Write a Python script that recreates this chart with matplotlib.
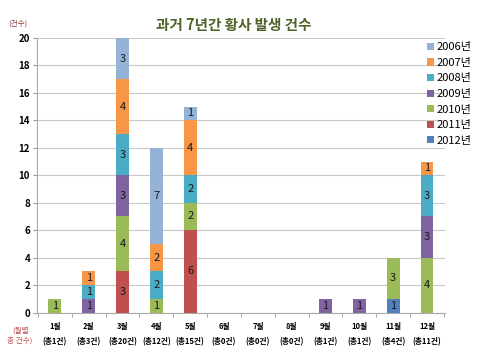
import matplotlib
matplotlib.use("Agg")
import matplotlib.pyplot as plt
import numpy as np

plt.rcParams['font.family'] = ['Noto Sans CJK KR', 'DejaVu Sans']

months = ["1월", "2월", "3월", "4월", "5월", "6월", "7월", "8월", "9월", "10월", "11월", "12월"]
totals_lbl = ["(총1건)", "(총3건)", "(총20건)", "(총12건)", "(총15건)", "(총0건)",
              "(총0건)", "(총0건)", "(총1건)", "(총1건)", "(총4건)", "(총11건)"]
# stacking order bottom -> top
years = ["2012년", "2011년", "2010년", "2009년", "2008년", "2007년", "2006년"]
y2012 = [0, 0, 0, 0, 0, 0, 0, 0, 0, 0, 1, 0]
y2011 = [0, 0, 3, 0, 6, 0, 0, 0, 0, 0, 0, 0]
y2010 = [1, 0, 4, 1, 2, 0, 0, 0, 0, 0, 3, 4]
y2009 = [0, 1, 3, 0, 0, 0, 0, 0, 1, 1, 0, 3]
y2008 = [0, 1, 3, 2, 2, 0, 0, 0, 0, 0, 0, 3]
y2007 = [0, 1, 4, 2, 4, 0, 0, 0, 0, 0, 0, 1]
y2006 = [0, 0, 3, 7, 1, 0, 0, 0, 0, 0, 0, 0]
series = [y2012, y2011, y2010, y2009, y2008, y2007, y2006]
colors = ["#4F81BD", "#C0504D", "#9BBB59", "#8064A2", "#4BACC6", "#F79646", "#95B3D7"]

fig = plt.figure(figsize=(4.8, 3.61), dpi=100)
ax = fig.add_axes([0.077, 0.134, 0.85, 0.761])

x = np.arange(len(months))
bottom = np.zeros(len(months))
handles = {}
for name, vals, c in zip(years, series, colors):
    vals = np.array(vals, dtype=float)
    bars = ax.bar(x, vals, width=0.38, bottom=bottom, color=c, edgecolor='none', zorder=3)
    handles[name] = bars
    for xi, v, b in zip(x, vals, bottom):
        if v > 0:
            ax.text(xi, b + v / 2, f"{int(v)}", ha='center', va='center', fontsize=8,
                    color='#1a1a1a', zorder=4)
    bottom += vals

ax.set_xlim(-0.53, 11.53)
ax.set_ylim(0, 20)
ax.set_yticks(range(0, 21, 2))
ax.set_yticklabels([str(v) for v in range(0, 21, 2)], fontsize=7, fontweight='bold')
ax.yaxis.grid(True, color='#c8c8c8', linewidth=0.8, zorder=0)
ax.set_axisbelow(True)
ax.set_xticks(x)
ax.set_xticklabels([f"{m}\n{t}" for m, t in zip(months, totals_lbl)], fontsize=5.5,
                   fontweight='bold', linespacing=1.9)
ax.tick_params(axis='x', length=0, pad=7)
ax.tick_params(axis='y', length=3, color='#999999', pad=2)
ax.set_xticks(np.arange(-0.5, 12, 1), minor=True)
ax.tick_params(axis='x', which='minor', length=3, color='#999999')
for s in ['top', 'right']:
    ax.spines[s].set_visible(False)
ax.spines['left'].set_color('#aaaaaa')
ax.spines['bottom'].set_color('#aaaaaa')

order = ["2006년", "2007년", "2008년", "2009년", "2010년", "2011년", "2012년"]
leg = ax.legend([handles[n] for n in order], order, loc='upper left',
                bbox_to_anchor=(0.945, 1.0), frameon=False, fontsize=8,
                handlelength=0.6, handleheight=0.6, handletextpad=0.25, labelspacing=0.5,
                borderaxespad=0)

fig.text(0.4875, 0.931, "과거 7년간 황사 발생 건수", ha='center', va='center', fontsize=10.5,
         fontweight='bold', color='#4F6228')
fig.text(0.038, 0.936, "(건수)", ha='center', va='center', fontsize=5.5, color='#8B3A3A')
fig.text(0.042, 0.071, "(월별\n총 건수)", ha='center', va='center', fontsize=5.5,
         color='#C0504D', linespacing=1.25)

fig.savefig("out.png", dpi=100)
